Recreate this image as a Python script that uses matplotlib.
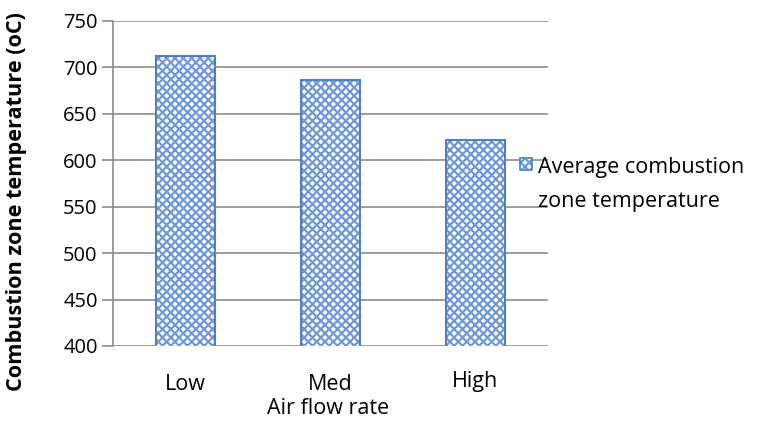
import matplotlib.pyplot as plt
import matplotlib.transforms as mtransforms
from matplotlib.patches import Rectangle

categories = ['Low', 'Med', 'High']
temps = [712, 686, 622]
yticks = [400, 450, 500, 550, 600, 650, 700, 750]
series_lines = ['Average combustion', 'zone temperature']

plt.rcParams['font.family'] = ['Open Sans', 'DejaVu Sans']
plt.rcParams['hatch.linewidth'] = 1.6

W, H = 764, 423
fig = plt.figure(figsize=(W/100, H/100), dpi=100)
ax = fig.add_axes([113/W, 1 - 346/H, (548 - 113)/W, (346 - 21)/H])

x = list(range(len(categories)))
bars = ax.bar(x, temps, width=0.41, color='white', edgecolor='#7299d4',
              hatch='xxxx', linewidth=0, zorder=3)
for b in bars:
    ax.add_patch(Rectangle(b.get_xy(), b.get_width(), b.get_height(),
                           fill=False, edgecolor='#4f81bd', linewidth=1.5, zorder=4))

ax.set_xlim(-0.5, 2.5)
ax.set_ylim(400, 750)
ax.set_yticks(yticks)
ax.yaxis.grid(True, color='#8c8c8c', linewidth=1.2, zorder=0)
ax.set_xticks(x)
ax.set_xticklabels(categories, fontsize=15.5)
ax.tick_params(axis='x', length=0, pad=20)
ax.tick_params(axis='y', length=8, color='#8c8c8c', width=1.2, labelsize=14.5,
               pad=3, direction='out')
for s in ['top', 'right', 'bottom']:
    ax.spines[s].set_visible(False)
ax.spines['left'].set_color('#8c8c8c')
ax.spines['left'].set_linewidth(1.2)
ax.set_axisbelow(True)

# "High" sits a little higher than the other labels in the original
lbl = ax.get_xticklabels()[2]
lbl.set_transform(lbl.get_transform() +
                  mtransforms.ScaledTranslation(0, 3/100, fig.dpi_scale_trans))

ax.set_ylabel('Combustion zone temperature (oC)', fontsize=15.6, fontweight='bold')
ax.yaxis.set_label_coords(-0.197, 0.443)
ax.set_xlabel('Air flow rate', fontsize=15.5)
ax.xaxis.set_label_coords(0.495, -0.16)

# legend
fig.patches.append(Rectangle((520/W, 1 - 170/H), 12/W, 12/H, transform=fig.transFigure,
                             facecolor='white', edgecolor='#7299d4', hatch='xxxx',
                             linewidth=0, zorder=5))
fig.patches.append(Rectangle((520/W, 1 - 170/H), 12/W, 12/H, transform=fig.transFigure,
                             fill=False, edgecolor='#4f81bd', linewidth=1.2, zorder=6))
for i, line in enumerate(series_lines):
    fig.text(538/W, 1 - (165 + 34*i)/H, line, fontsize=15.5, va='center_baseline',
             ha='left')

fig.savefig('out.png', dpi=100)
